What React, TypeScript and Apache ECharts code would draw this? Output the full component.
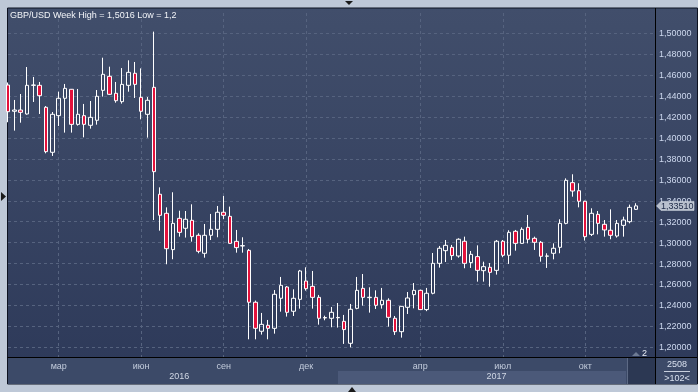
import React, { useEffect, useRef } from 'react';
import * as echarts from 'echarts';

// Weekly GBP/USD candles (index 0 = first visible week, Jan 2016)
const opens = [
  1.4506, 1.4255, 1.4267, 1.4229, 1.4503, 1.4503, 1.4293, 1.3863, 1.4213, 1.4379,
  1.4465, 1.4130, 1.4213, 1.4121, 1.4169, 1.4455, 1.4589, 1.4427, 1.4347, 1.4503,
  1.4618, 1.4388, 1.4226, 1.4484, 1.3462, 1.3280, 1.2933, 1.3232, 1.3137, 1.3213,
  1.3070, 1.2898, 1.3070, 1.3127, 1.3290, 1.3251, 1.3012, 1.2968, 1.2926, 1.2430,
  1.2153, 1.2210, 1.2181, 1.2468, 1.2576, 1.2344, 1.2458, 1.2633, 1.2582, 1.2477,
  1.2280, 1.2277, 1.2285, 1.2248, 1.2038, 1.2372, 1.2563, 1.2474, 1.2477, 1.2407,
  1.2449, 1.2277, 1.2149, 1.2382, 1.2503, 1.2544, 1.2360, 1.2516, 1.2802, 1.2923,
  1.2955, 1.2872, 1.3013, 1.2809, 1.2866, 1.2732, 1.2764, 1.2735, 1.3013, 1.2879,
  1.3108, 1.2993, 1.3146, 1.3041, 1.3003, 1.2870, 1.2898, 1.2955, 1.3184, 1.3573,
  1.3496, 1.3395, 1.3079, 1.3270, 1.3175, 1.3118, 1.3063, 1.3165, 1.3200, 1.3318,
];
const highs = [
  1.4530, 1.4363, 1.4420, 1.4678, 1.4583, 1.4535, 1.4305, 1.4248, 1.4442, 1.4516,
  1.4468, 1.4468, 1.4325, 1.4353, 1.4458, 1.4767, 1.4681, 1.4535, 1.4668, 1.4742,
  1.4726, 1.4665, 1.4391, 1.5016, 1.3528, 1.3337, 1.3481, 1.3305, 1.3302, 1.3366,
  1.3089, 1.3178, 1.3274, 1.3350, 1.3446, 1.3344, 1.3121, 1.3051, 1.2939, 1.2446,
  1.2328, 1.2261, 1.2547, 1.2672, 1.2585, 1.2554, 1.2739, 1.2764, 1.2729, 1.2500,
  1.2302, 1.2385, 1.2423, 1.2309, 1.2414, 1.2672, 1.2700, 1.2573, 1.2544, 1.2567,
  1.2468, 1.2299, 1.2394, 1.2528, 1.2614, 1.2550, 1.2567, 1.2901, 1.2968, 1.3025,
  1.2978, 1.3041, 1.3057, 1.2920, 1.2974, 1.2818, 1.2805, 1.3025, 1.3025, 1.3118,
  1.3121, 1.3146, 1.3264, 1.3057, 1.3016, 1.2898, 1.2993, 1.3223, 1.3614, 1.3653,
  1.3567, 1.3400, 1.3328, 1.3302, 1.3216, 1.3318, 1.3216, 1.3248, 1.3363, 1.3376,
];
const lows = [
  1.4150, 1.4070, 1.4146, 1.4223, 1.4344, 1.4229, 1.3853, 1.3828, 1.4114, 1.4051,
  1.4051, 1.4118, 1.4006, 1.4089, 1.4127, 1.4395, 1.4411, 1.4337, 1.4328, 1.4442,
  1.4382, 1.4178, 1.4003, 1.3216, 1.3114, 1.2793, 1.2841, 1.3057, 1.3048, 1.3009,
  1.2898, 1.2856, 1.3025, 1.3051, 1.3226, 1.2990, 1.2904, 1.2904, 1.2076, 1.2076,
  1.2121, 1.2076, 1.2130, 1.2340, 1.2293, 1.2299, 1.2369, 1.2541, 1.2369, 1.2216,
  1.2258, 1.2191, 1.2188, 1.2032, 1.2000, 1.2363, 1.2398, 1.2331, 1.2366, 1.2369,
  1.2197, 1.2118, 1.2092, 1.2318, 1.2372, 1.2355, 1.2345, 1.2506, 1.2761, 1.2815,
  1.2834, 1.2856, 1.2755, 1.2758, 1.2627, 1.2627, 1.2579, 1.2694, 1.2860, 1.2796,
  1.2923, 1.2990, 1.2993, 1.2930, 1.2818, 1.2758, 1.2840, 1.2898, 1.3175, 1.3439,
  1.3337, 1.3019, 1.3063, 1.3079, 1.3057, 1.3032, 1.3048, 1.3057, 1.3184, 1.3312,
];
const closes = [
  1.4251, 1.4267, 1.4245, 1.4503, 1.4506, 1.4404, 1.3869, 1.4226, 1.4379, 1.4474,
  1.4130, 1.4226, 1.4130, 1.4197, 1.4398, 1.4608, 1.4417, 1.4356, 1.4512, 1.4627,
  1.4512, 1.4255, 1.4360, 1.3678, 1.3261, 1.2942, 1.3184, 1.3098, 1.3223, 1.3057,
  1.2917, 1.3070, 1.3127, 1.3290, 1.3261, 1.2993, 1.2952, 1.2971, 1.2430, 1.2181,
  1.2219, 1.2181, 1.2506, 1.2592, 1.2334, 1.2468, 1.2729, 1.2560, 1.2477, 1.2277,
  1.2284, 1.2334, 1.2282, 1.2169, 1.2363, 1.2544, 1.2477, 1.2478, 1.2401, 1.2449,
  1.2286, 1.2149, 1.2391, 1.2471, 1.2544, 1.2360, 1.2516, 1.2802, 1.2946, 1.2974,
  1.2876, 1.3032, 1.2802, 1.2888, 1.2735, 1.2770, 1.2716, 1.3013, 1.2879, 1.3098,
  1.2993, 1.3127, 1.3032, 1.3003, 1.2869, 1.2872, 1.2946, 1.3184, 1.3595, 1.3493,
  1.3395, 1.3057, 1.3280, 1.3184, 1.3121, 1.3070, 1.3184, 1.3216, 1.3337, 1.3351,
];

// 100 weekly bars + 3 empty future slots
const categories = Array.from({ length: 103 }, (_, i) => String(i));

const monthIdx = [8, 21, 34, 47, 65, 78, 91];
const monthLabels = ['мар', 'июн', 'сен', 'дек', 'апр', 'июл', 'окт'];
const yearIdx = [27, 77];
const yearLabels = ['2016', '2017'];

const Y_MIN = 1.1907;
const Y_MAX = 1.5194;

const FONT = 'Liberation Sans, Arial, sans-serif';

export default function App() {
  const ref = useRef<HTMLDivElement>(null);

  useEffect(() => {
    const chart = echarts.init(ref.current!, null, { renderer: 'svg' });
    const data = opens.map((o, i) => [o, closes[i], lows[i], highs[i]]);
    const dash = { type: [3, 3] as any, color: '#56637f', width: 1 };
    const fmt = (v: number) => String(v).replace('.', ',');
    const hi = Math.max(...highs);
    const lo = Math.min(...lows);

    chart.setOption({
      animation: false,
      grid: { left: 8, right: 43, top: 13, bottom: 35, containLabel: false },
      xAxis: [
        {
          type: 'category',
          data: categories,
          boundaryGap: false,
          axisLine: { show: true, lineStyle: { color: '#000', width: 1 } },
          axisTick: { show: false },
          axisLabel: {
            interval: (i: number) => monthIdx.includes(i),
            formatter: (_v: string, i: number) => monthLabels[monthIdx.indexOf(i)] ?? '',
            color: '#c3ccdc',
            fontSize: 9,
            fontFamily: FONT,
            margin: 4,
          },
          splitLine: { show: true, interval: (i: number) => monthIdx.includes(i), lineStyle: dash },
        },
        {
          type: 'category',
          data: categories,
          boundaryGap: false,
          position: 'bottom',
          offset: 10,
          axisLine: { show: false },
          axisTick: { show: false },
          axisLabel: {
            interval: (i: number) => yearIdx.includes(i),
            formatter: (_v: string, i: number) => yearLabels[yearIdx.indexOf(i)] ?? '',
            color: '#d0d7e4',
            fontSize: 9,
            fontFamily: FONT,
            margin: 4,
          },
          splitLine: { show: false },
        },
      ],
      yAxis: {
        type: 'value',
        position: 'right',
        min: Y_MIN,
        max: Y_MAX,
        splitNumber: 16,
        axisLine: { show: true, lineStyle: { color: '#000', width: 1 } },
        axisTick: { show: false },
        axisLabel: {
          color: '#cdd8ee',
          fontSize: 9,
          fontFamily: FONT,
          margin: 4,
          formatter: (v: number) =>
            Math.abs(v * 50 - Math.round(v * 50)) < 1e-6 ? v.toFixed(5).replace('.', ',') : '',
        },
        splitLine: { show: true, showMinLine: false, showMaxLine: false, lineStyle: dash },
      },
      series: [
        {
          type: 'candlestick',
          data,
          barWidth: 4,
          clip: true,
          itemStyle: {
            color: 'rgba(0,0,0,0)',
            color0: '#e3123c',
            borderColor: '#ffffff',
            borderColor0: '#ffffff',
            borderWidth: 1,
          },
        },
      ],
    });

    const last = closes[closes.length - 1];
    const py = chart.convertToPixel({ yAxisIndex: 0 } as any, last) as number;

    const bgGrad = new echarts.graphic.LinearGradient(0, 0, 0, 1, [
      { offset: 0, color: '#414e6b' },
      { offset: 1, color: '#2d3959' },
    ]);

    chart.setOption({
      graphic: {
        elements: [
          { type: 'rect', z: -20, silent: true, shape: { x: 0, y: 0, width: 698, height: 392 }, style: { fill: '#bec8d7' } },
          { type: 'rect', z: -19, silent: true, shape: { x: 7.5, y: 8, width: 690, height: 376 }, style: { fill: bgGrad, stroke: '#0d1220', lineWidth: 1 } },
          { type: 'rect', z: -18, silent: true, shape: { x: 8, y: 357, width: 647, height: 27 }, style: { fill: '#3c4a68' } },
          { type: 'rect', z: -17, silent: true, shape: { x: 338, y: 371, width: 288, height: 13 }, style: { fill: '#4b5979' } },
          { type: 'rect', z: -17, silent: true, shape: { x: 628, y: 358, width: 27, height: 26 }, style: { fill: '#2c3853' } },
          { type: 'line', z: -16, silent: true, shape: { x1: 627.5, y1: 358, x2: 627.5, y2: 384 }, style: { stroke: '#5d6a85', lineWidth: 1 } },
          { type: 'rect', z: -18, silent: true, shape: { x: 656, y: 358, width: 41, height: 26 }, style: { fill: '#3c4a68' } },
          { type: 'line', z: 10, silent: true, shape: { x1: 8, y1: 357.5, x2: 697, y2: 357.5 }, style: { stroke: '#000', lineWidth: 1 } },
          { type: 'line', z: 10, silent: true, shape: { x1: 655.5, y1: 8, x2: 655.5, y2: 384 }, style: { stroke: '#000', lineWidth: 1 } },
          { type: 'text', z: 10, silent: true, x: 677, y: 364, style: { text: '2508', fill: '#d8e0ee', font: `9px ${FONT}`, align: 'center', verticalAlign: 'middle' } },
          { type: 'line', z: 10, silent: true, shape: { x1: 664, y1: 371.5, x2: 690, y2: 371.5 }, style: { stroke: '#c8d0de', lineWidth: 1 } },
          { type: 'text', z: 10, silent: true, x: 677, y: 378, style: { text: '>102<', fill: '#d8e0ee', font: `9px ${FONT}`, align: 'center', verticalAlign: 'middle' } },
          { type: 'text', z: 10, silent: true, x: 10, y: 14.5, style: { text: `GBP/USD Week High = ${fmt(hi)} Low = ${fmt(lo)}`, fill: '#f2f4f8', font: `9px ${FONT}`, align: 'left', verticalAlign: 'middle' } },
          { type: 'polygon', z: 10, silent: true, shape: { points: [[345, 1], [353, 1], [349, 5]] }, style: { fill: '#1a1a1a' } },
          { type: 'polygon', z: 10, silent: true, shape: { points: [[1, 192], [1, 201], [6, 196.5]] }, style: { fill: '#1a1a1a' } },
          { type: 'polygon', z: 10, silent: true, shape: { points: [[348, 392], [356, 392], [352, 387]] }, style: { fill: '#1a1a1a' } },
          { type: 'polygon', z: 10, silent: true, shape: { points: [[632, 356], [640, 356], [636, 352]] }, style: { fill: '#6d7a93' } },
          { type: 'text', z: 10, silent: true, x: 642, y: 352.5, style: { text: '2', fill: '#e8ecf4', font: `9px ${FONT}`, align: 'left', verticalAlign: 'middle' } },
          { type: 'polygon', z: 20, silent: true, shape: { points: [[656.5, py], [661, py - 4.5], [694, py - 4.5], [694, py + 4.5], [661, py + 4.5]] }, style: { fill: '#b9c1ce', stroke: '#dfe4ec', lineWidth: 0.5 } },
          { type: 'text', z: 21, silent: true, x: 661, y: py, style: { text: last.toFixed(5).replace('.', ','), fill: '#1c2946', font: `9px ${FONT}`, align: 'left', verticalAlign: 'middle' } },
        ],
      },
    });

    return () => chart.dispose();
  }, []);

  return <div ref={ref} style={{ position: 'fixed', left: 0, top: 0, width: 698, height: 392 }} />;
}
